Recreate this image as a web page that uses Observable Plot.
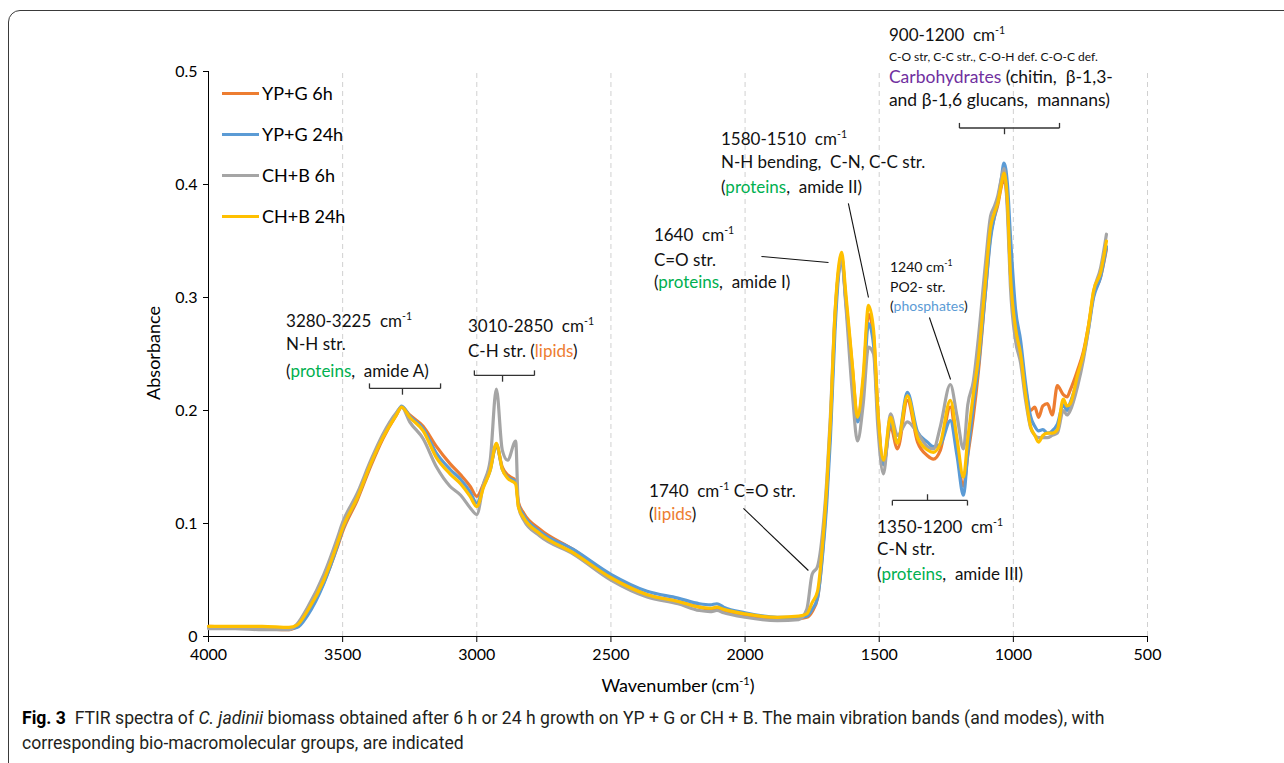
<!DOCTYPE html>
<html>
<head>
<meta charset="utf-8">
<script src="https://cdn.jsdelivr.net/npm/d3@7"></script>
<script src="https://cdn.jsdelivr.net/npm/@observablehq/plot@0.6"></script>
<style>
  html, body { margin: 0; padding: 0; background: #fff; }
  body { width: 1284px; height: 763px; position: relative; overflow: hidden; font-family: Lato, "Open Sans", sans-serif; }
  #frame { position: absolute; left: 8px; top: 10px; width: 1300px; height: 766px; border: 1px solid #3a3a3a; border-radius: 12px; box-sizing: border-box; }
  #chart { position: absolute; left: 0; top: 0; }
  .legline { position: absolute; height: 3px; }
  .legtxt { position: absolute; font-size: 18px; line-height: 22px; color: #000; white-space: nowrap; }
  #caption { position: absolute; left: 22px; top: 706px; font-family: Roboto, sans-serif; font-size: 17.6px; line-height: 25px; color: #231f20; white-space: nowrap; }
  #caption b { color: #000; }
</style>
</head>
<body>
<div id="frame"></div>
<div id="chart"></div>
<div id="legend"></div>
<div id="caption"><b>Fig. 3</b>&nbsp; FTIR spectra of <i>C. jadinii</i> biomass obtained after 6 h or 24 h growth on YP + G or CH + B. The main vibration bands (and modes), with<br>corresponding bio-macromolecular groups, are indicated</div>
<script>
// ---------------- data ----------------
const seriesNames = ["YP+G 6h", "YP+G 24h", "CH+B 6h", "CH+B 24h"];
const seriesColors = ["#ED7D31", "#5B9BD5", "#A5A5A5", "#FFC000"];

const wavenumber = [4000, 3900, 3800, 3700, 3670, 3630, 3570, 3520, 3500, 3445, 3395, 3350, 3300, 3280, 3250, 3200, 3150, 3100, 3060, 3025, 3000, 2975, 2950, 2927, 2905, 2885, 2855, 2845, 2825, 2765, 2640, 2500, 2365, 2250, 2170, 2130, 2105, 2080, 2000, 1880, 1800, 1770, 1750, 1730, 1710, 1695, 1682, 1665, 1650, 1640, 1625, 1600, 1581, 1560, 1540, 1521, 1505, 1484, 1458, 1432, 1395, 1357, 1320, 1298, 1272, 1235, 1210, 1186, 1170, 1149, 1130, 1104, 1085, 1072, 1058, 1045, 1035, 1022, 1011, 992, 973, 955, 936, 920, 906, 890, 873, 855, 836, 814, 800, 788, 760, 739, 720, 701, 675, 653];

const ypg6h = [0.009, 0.008, 0.007, 0.006, 0.009, 0.021, 0.048, 0.079, 0.093, 0.121, 0.151, 0.175, 0.196, 0.203, 0.196, 0.186, 0.168, 0.153, 0.143, 0.133, 0.124, 0.135, 0.149, 0.169, 0.150, 0.143, 0.138, 0.119, 0.109, 0.095, 0.077, 0.053, 0.037, 0.031, 0.026, 0.024, 0.025, 0.023, 0.019, 0.016, 0.016, 0.017, 0.022, 0.034, 0.078, 0.128, 0.185, 0.280, 0.326, 0.336, 0.300, 0.238, 0.193, 0.225, 0.285, 0.266, 0.200, 0.152, 0.186, 0.166, 0.209, 0.172, 0.160, 0.157, 0.165, 0.203, 0.165, 0.133, 0.160, 0.195, 0.235, 0.305, 0.355, 0.370, 0.382, 0.398, 0.405, 0.383, 0.322, 0.275, 0.252, 0.220, 0.200, 0.203, 0.194, 0.204, 0.206, 0.196, 0.222, 0.214, 0.212, 0.218, 0.236, 0.252, 0.275, 0.302, 0.318, 0.343];

const ypg24h = [0.008, 0.008, 0.008, 0.007, 0.008, 0.019, 0.047, 0.080, 0.095, 0.123, 0.153, 0.177, 0.197, 0.204, 0.195, 0.184, 0.162, 0.148, 0.139, 0.128, 0.118, 0.133, 0.147, 0.170, 0.148, 0.141, 0.137, 0.117, 0.107, 0.093, 0.077, 0.055, 0.040, 0.034, 0.029, 0.028, 0.029, 0.026, 0.021, 0.017, 0.017, 0.018, 0.024, 0.034, 0.075, 0.120, 0.175, 0.270, 0.323, 0.334, 0.298, 0.232, 0.190, 0.215, 0.277, 0.258, 0.195, 0.152, 0.190, 0.172, 0.216, 0.181, 0.172, 0.168, 0.170, 0.191, 0.160, 0.125, 0.162, 0.205, 0.240, 0.305, 0.352, 0.370, 0.385, 0.405, 0.419, 0.400, 0.355, 0.290, 0.262, 0.225, 0.195, 0.186, 0.182, 0.183, 0.180, 0.182, 0.188, 0.205, 0.200, 0.207, 0.228, 0.248, 0.272, 0.300, 0.318, 0.345];

const chb6h = [0.007, 0.007, 0.006, 0.006, 0.011, 0.026, 0.055, 0.087, 0.101, 0.127, 0.156, 0.179, 0.198, 0.203, 0.190, 0.175, 0.150, 0.133, 0.125, 0.114, 0.108, 0.135, 0.156, 0.219, 0.165, 0.156, 0.173, 0.115, 0.103, 0.089, 0.073, 0.050, 0.035, 0.029, 0.023, 0.022, 0.023, 0.021, 0.017, 0.014, 0.015, 0.024, 0.055, 0.062, 0.095, 0.140, 0.195, 0.285, 0.325, 0.336, 0.295, 0.215, 0.173, 0.205, 0.256, 0.250, 0.185, 0.144, 0.197, 0.178, 0.190, 0.180, 0.168, 0.166, 0.186, 0.223, 0.195, 0.166, 0.205, 0.226, 0.265, 0.330, 0.372, 0.380, 0.390, 0.405, 0.414, 0.375, 0.310, 0.262, 0.242, 0.210, 0.185, 0.178, 0.176, 0.176, 0.176, 0.178, 0.180, 0.200, 0.196, 0.200, 0.222, 0.245, 0.272, 0.305, 0.326, 0.356];

const chb24h = [0.009, 0.009, 0.009, 0.008, 0.010, 0.023, 0.050, 0.082, 0.096, 0.123, 0.153, 0.176, 0.196, 0.203, 0.194, 0.182, 0.158, 0.144, 0.135, 0.124, 0.115, 0.132, 0.147, 0.171, 0.148, 0.140, 0.135, 0.115, 0.105, 0.091, 0.074, 0.052, 0.037, 0.031, 0.026, 0.025, 0.026, 0.024, 0.020, 0.017, 0.018, 0.020, 0.030, 0.040, 0.085, 0.135, 0.190, 0.285, 0.330, 0.340, 0.305, 0.240, 0.194, 0.230, 0.293, 0.271, 0.200, 0.156, 0.194, 0.171, 0.213, 0.176, 0.165, 0.163, 0.171, 0.209, 0.175, 0.141, 0.175, 0.215, 0.247, 0.315, 0.362, 0.374, 0.384, 0.400, 0.410, 0.385, 0.321, 0.273, 0.250, 0.215, 0.186, 0.178, 0.172, 0.178, 0.180, 0.180, 0.183, 0.210, 0.204, 0.206, 0.232, 0.250, 0.275, 0.306, 0.322, 0.350];

const seriesValues = [ypg6h, ypg24h, chb6h, chb24h];

const xTicks = [4000, 3500, 3000, 2500, 2000, 1500, 1000, 500];
const gridTicks = [3500, 3000, 2500, 2000, 1500, 1000, 500];
const yTicks = [0, 0.1, 0.2, 0.3, 0.4, 0.5];

// annotation text (markup: ^{sup}, [text|colorKey])
const annotColors = { green: "#00B050", orange: "#ED7D31", blue: "#5B9BD5", purple: "#7030A0" };
const annotations = [
  { x: 1462, lines: [
    { t: "900-1200  cm^{-1}", y: 0.5265, s: 17 },
    { t: "C-O str, C-C str., C-O-H def. C-O-C def.", y: 0.5088, s: 12 },
    { t: "[Carbohydrates|purple] (chitin,  β-1,3-", y: 0.4894, s: 17.5 },
    { t: "and β-1,6 glucans,  mannans)", y: 0.4690, s: 17.5 } ] },
  { x: 2088, lines: [
    { t: "1580-1510  cm^{-1}", y: 0.4345, s: 17 },
    { t: "N-H bending,  C-N, C-C str.", y: 0.4142, s: 17 },
    { t: "([proteins|green],  amide II)", y: 0.3920, s: 17 } ] },
  { x: 2338, lines: [
    { t: "1640  cm^{-1}", y: 0.3496, s: 17 },
    { t: "C=O str.", y: 0.3274, s: 17 },
    { t: "([proteins|green],  amide I)", y: 0.3080, s: 17 } ] },
  { x: 1458, lines: [
    { t: "1240 cm^{-1}", y: 0.3221, s: 14 },
    { t: "PO2- str.", y: 0.3044, s: 14 },
    { t: "([phosphates|blue])", y: 0.2876, s: 14 } ] },
  { x: 3709, lines: [
    { t: "3280-3225  cm^{-1}", y: 0.2735, s: 17 },
    { t: "N-H str.", y: 0.2531, s: 17 },
    { t: "([proteins|green],  amide A)", y: 0.2292, s: 17 } ] },
  { x: 3031, lines: [
    { t: "3010-2850  cm^{-1}", y: 0.2690, s: 17 },
    { t: "C-H str. ([lipids|orange])", y: 0.2469, s: 17 } ] },
  { x: 2356, lines: [
    { t: "1740  cm^{-1} C=O str.", y: 0.1230, s: 17 },
    { t: "([lipids|orange])", y: 0.1027, s: 17 } ] },
  { x: 1506, lines: [
    { t: "1350-1200  cm^{-1}", y: 0.0912, s: 17 },
    { t: "C-N str.", y: 0.0717, s: 17 },
    { t: "([proteins|green],  amide III)", y: 0.0496, s: 17 } ] }
];
const leaders = [
  { x1: 1615, y1: 0.3832, x2: 1540, y2: 0.300 },
  { x1: 1939, y1: 0.3363, x2: 1689, y2: 0.3310 },
  { x1: 1313, y1: 0.2823, x2: 1234, y2: 0.2274 },
  { x1: 2006, y1: 0.1133, x2: 1764, y2: 0.0584 }
];
const brackets = [
  { x1: 1201, x2: 828, xc: 1033, y: 0.450, dir: 1 },
  { x1: 3400, x2: 3135, xc: 3277, y: 0.2195, dir: 1 },
  { x1: 3009, x2: 2785, xc: 2904, y: 0.2310, dir: 1 },
  { x1: 1451, x2: 1171, xc: 1320, y: 0.1204, dir: -1 }
];

// ---------------- build ----------------
const table = [];
seriesNames.forEach((name, i) => {
  wavenumber.forEach((w, j) => table.push({ series: name, wn: w, a: seriesValues[i][j] }));
});

const bracketSegs = [];
brackets.forEach(b => {
  const e = 0.0045 * b.dir, c = 0.0055 * b.dir;
  bracketSegs.push({ x1: b.x1, y1: b.y, x2: b.x2, y2: b.y });
  bracketSegs.push({ x1: b.x1, y1: b.y, x2: b.x1, y2: b.y + e });
  bracketSegs.push({ x1: b.x2, y1: b.y, x2: b.x2, y2: b.y + e });
  bracketSegs.push({ x1: b.xc, y1: b.y, x2: b.xc, y2: b.y - c });
});

const plot = Plot.plot({
  width: 1284,
  height: 700,
  marginLeft: 208,
  marginRight: 137,
  marginTop: 71,
  marginBottom: 64,
  style: { fontFamily: "Lato, 'Open Sans', sans-serif", fontSize: "16px", color: "#000", background: "transparent", overflow: "visible" },
  x: { domain: [4000, 500], ticks: xTicks, tickFormat: d => String(d), tickSize: 6, tickPadding: 6, line: true, label: null },
  y: { domain: [0, 0.5], ticks: yTicks, tickFormat: d => d === 0 ? "0" : d.toFixed(1), tickSize: 5, tickPadding: 6, line: true, label: null },
  color: { domain: seriesNames, range: seriesColors },
  marks: [
    Plot.ruleX(gridTicks, { y1: 0, y2: 0.5, stroke: "#d0d0d0", strokeDasharray: "5,4", strokeWidth: 1 }),
    Plot.line(table, { x: "wn", y: "a", z: "series", stroke: "series", strokeWidth: 3.2, curve: "monotone-x", strokeLinejoin: "round" }),
    Plot.link(leaders, { x1: "x1", y1: "y1", x2: "x2", y2: "y2", stroke: "#111", strokeWidth: 1.1 }),
    Plot.link(bracketSegs, { x1: "x1", y1: "y1", x2: "x2", y2: "y2", stroke: "#333", strokeWidth: 1.3 })
  ]
});
document.getElementById("chart").appendChild(plot);

// rich annotation text placed through the plot's scales
const xs = plot.scale("x"), ys = plot.scale("y");
const svg = d3.select(plot);
const g = svg.append("g").attr("font-family", "Lato, 'Open Sans', sans-serif")
  .attr("fill", "#111").attr("text-anchor", "start");
function parse(str) {
  const parts = [];
  const re = /\^\{([^}]*)\}|\[([^\]|]*)\|([^\]]*)\]/g;
  let last = 0, m;
  while ((m = re.exec(str))) {
    if (m.index > last) parts.push({ t: str.slice(last, m.index) });
    if (m[1] !== undefined) parts.push({ t: m[1], sup: true });
    else parts.push({ t: m[2], c: annotColors[m[3]] });
    last = re.lastIndex;
  }
  if (last < str.length) parts.push({ t: str.slice(last) });
  return parts;
}
annotations.forEach(a => {
  a.lines.forEach(line => {
    const fs = line.s;
    const t = g.append("text")
      .attr("x", xs.apply(a.x)).attr("y", ys.apply(line.y))
      .attr("text-anchor", "start")
      .attr("font-size", fs).style("white-space", "pre");
    let shifted = false;
    parse(line.t).forEach(p => {
      const sp = t.append("tspan").text(p.t);
      if (p.c) sp.attr("fill", p.c);
      if (p.sup) { sp.attr("font-size", fs * 0.62).attr("dy", -fs * 0.42); shifted = true; }
      else if (shifted) { sp.attr("dy", fs * 0.42); shifted = false; }
    });
  });
});

// axis titles
svg.append("text").attr("transform", "translate(155,353) rotate(-90)")
  .attr("text-anchor", "middle").attr("dominant-baseline", "middle")
  .attr("font-size", 18).attr("fill", "#000").text("Absorbance");
const xt = svg.append("text").attr("x", 678).attr("y", 692).attr("text-anchor", "middle")
  .attr("font-size", 18).attr("fill", "#000");
xt.append("tspan").text("Wavenumber (cm");
xt.append("tspan").attr("font-size", 11).attr("dy", -7).text("-1");
xt.append("tspan").attr("dy", 7).text(")");

// legend
const legendRows = [93, 134, 175, 216];
const leg = document.getElementById("legend");
seriesNames.forEach((name, i) => {
  const l = document.createElement("div");
  l.className = "legline";
  l.style.left = "222px"; l.style.width = "37px"; l.style.top = (legendRows[i] - 1.5) + "px";
  l.style.background = seriesColors[i];
  leg.appendChild(l);
  const t = document.createElement("div");
  t.className = "legtxt";
  t.style.left = "262px"; t.style.top = (legendRows[i] - 11) + "px";
  t.textContent = name;
  leg.appendChild(t);
});
</script>
</body>
</html>
